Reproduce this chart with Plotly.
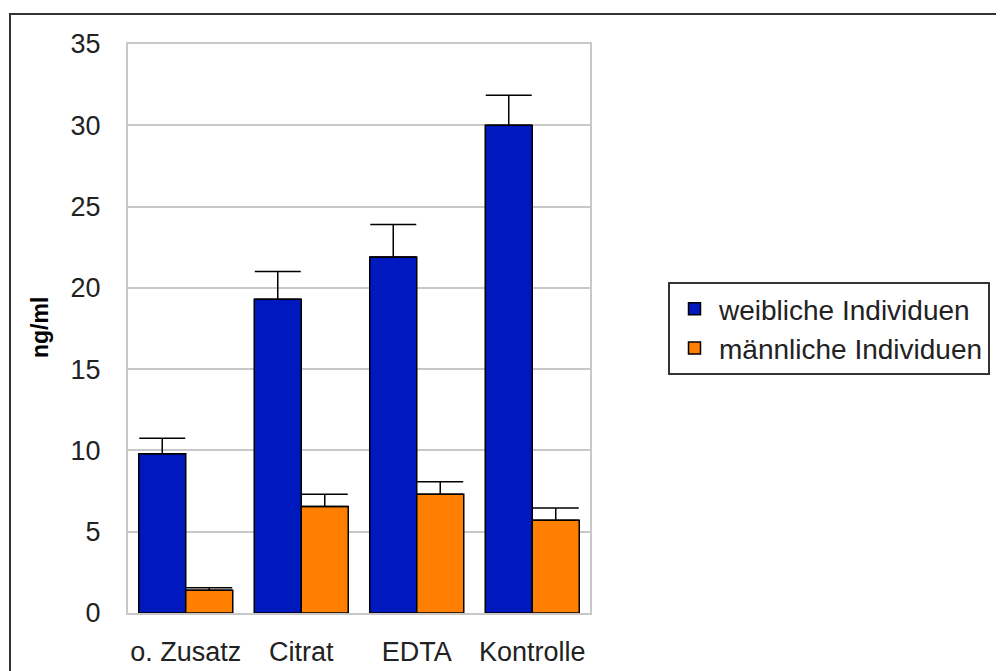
import plotly.graph_objects as go

categories = ["o. Zusatz", "Citrat", "EDTA", "Kontrolle"]
weiblich = [9.8, 19.3, 21.9, 30.0]
weiblich_err = [0.95, 1.7, 2.0, 1.85]
maennlich = [1.4, 6.55, 7.3, 5.7]
maennlich_err = [0.15, 0.75, 0.78, 0.76]
y_ticks = [0, 5, 10, 15, 20, 25, 30, 35]

BLUE = "#0019BF"
ORANGE = "#FF8000"
FONT = "Liberation Sans, Arial, sans-serif"

fig = go.Figure()
fig.add_trace(go.Bar(
    x=categories, y=weiblich, name="weibliche Individuen",
    marker=dict(color=BLUE, line=dict(color="black", width=1.5)),
    error_y=dict(type="data", array=weiblich_err, arrayminus=[0]*4, symmetric=False,
                 color="black", thickness=1.5, width=23),
))
fig.add_trace(go.Bar(
    x=categories, y=maennlich, name="männliche Individuen",
    marker=dict(color=ORANGE, line=dict(color="black", width=1.5)),
    error_y=dict(type="data", array=maennlich_err, arrayminus=[0]*4, symmetric=False,
                 color="black", thickness=1.5, width=23),
))

# page body has an 8px margin; work in screen pixels and shift
OFF = 8
W, H = 1004 - OFF, 671 - OFF
L, R, T, B = 128 - OFF, 590 - OFF, 44 - OFF, 613 - OFF
pw, ph = R - L, B - T

def px(xs):
    return (xs - OFF - L) / pw

def py(ys):
    return (B - (ys - OFF)) / ph

fig.update_layout(
    width=W, height=H,
    margin=dict(l=L, r=W - R, t=T, b=H - B, autoexpand=False),
    paper_bgcolor="white", plot_bgcolor="white",
    barmode="group", bargap=0.186, bargroupgap=0,
    font=dict(family=FONT, size=27, color="#222"),
    showlegend=True,
    legend=dict(
        x=px(668), y=py(282), xanchor="left", yanchor="top",
        bordercolor="#333", borderwidth=2, bgcolor="white",
        font=dict(family=FONT, size=28, color="#222"),
        tracegroupgap=0, itemwidth=39,
    ),
    xaxis=dict(
        showgrid=False, showline=True, linecolor="#c8c8c8", linewidth=2, mirror=True,
        ticks="outside", ticklen=14, tickcolor="rgba(0,0,0,0)",
        tickfont=dict(family=FONT, size=27, color="#222"),
    ),
    yaxis=dict(
        range=[0, 35], tickvals=y_ticks, showgrid=True, gridcolor="#c8c8c8", gridwidth=2,
        showline=True, linecolor="#c8c8c8", linewidth=2, mirror=True, zeroline=False,
        ticks="outside", ticklen=20, tickcolor="rgba(0,0,0,0)",
        tickfont=dict(family=FONT, size=27, color="#222"),
    ),
    annotations=[dict(
        text="<b>ng/ml</b>", textangle=-90, xref="paper", yref="paper",
        x=px(40), y=py(328), xanchor="center", yanchor="middle", showarrow=False,
        font=dict(family=FONT, size=23, color="black"),
    )],
    shapes=[dict(
        type="rect", xref="paper", yref="paper",
        x0=px(10), x1=px(1040), y0=py(14), y1=py(700),
        line=dict(color="#333", width=2), fillcolor="rgba(0,0,0,0)", layer="above",
    )],
)

fig.write_html("out.html")
